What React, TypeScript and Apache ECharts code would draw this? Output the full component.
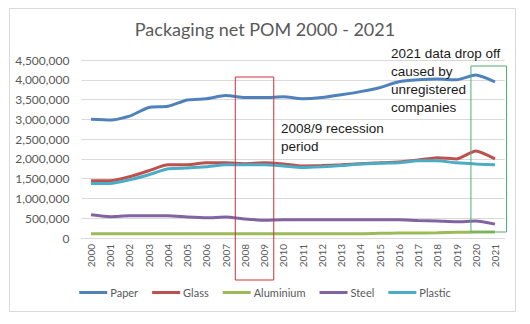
import React, { useEffect, useRef } from "react";
import * as echarts from "echarts";

const years = ["2000","2001","2002","2003","2004","2005","2006","2007","2008","2009","2010","2011","2012","2013","2014","2015","2016","2017","2018","2019","2020","2021"];
const paper = [3000000,2980000,3080000,3300000,3330000,3490000,3520000,3600000,3550000,3550000,3570000,3520000,3550000,3620000,3700000,3800000,3950000,4000000,4020000,4000000,4120000,3950000];
const glass = [1450000,1450000,1550000,1700000,1850000,1850000,1900000,1900000,1880000,1900000,1870000,1820000,1830000,1850000,1880000,1900000,1920000,1970000,2030000,2000000,2200000,2000000];
const aluminium = [110000,110000,110000,110000,110000,110000,110000,110000,110000,110000,110000,110000,110000,110000,110000,120000,125000,125000,130000,145000,150000,150000];
const steel = [590000,540000,560000,560000,560000,530000,510000,530000,480000,450000,460000,460000,460000,460000,460000,460000,460000,440000,430000,410000,430000,350000];
const plastic = [1380000,1380000,1470000,1600000,1750000,1770000,1800000,1850000,1850000,1850000,1820000,1780000,1800000,1830000,1870000,1890000,1900000,1950000,1950000,1900000,1870000,1850000];

const seriesNames = ["Paper", "Glass", "Aluminium", "Steel", "Plastic"];
const seriesData = [paper, glass, aluminium, steel, plastic];
const colors = ["#4f81bd", "#c0504d", "#9bbb59", "#8064a2", "#4bacc6"];

const titleText = "Packaging net POM 2000 - 2021";
const noteDrop = "2021 data drop off\ncaused by\nunregistered\ncompanies";
const noteRecession = "2008/9 recession\nperiod";

export default function App() {
  const ref = useRef<HTMLDivElement>(null);
  useEffect(() => {
    if (!ref.current) return;
    const chart = echarts.init(ref.current, null, { renderer: "svg" });
    const option: any = {
      animation: false,
      backgroundColor: "#ffffff",
      color: colors,
      title: {
        text: titleText,
        left: "center",
        top: 20,
        padding: 0,
        textStyle: { fontFamily: "Lato", fontSize: 18, fontWeight: "normal", color: "#595959" },
      },
      legend: {
        data: seriesNames,
        top: 287,
        left: "center",
        padding: 0,
        itemWidth: 28,
        itemHeight: 3,
        itemGap: 14,
        icon: "rect",
        textStyle: { fontFamily: "Lato", fontSize: 11, color: "#595959", padding: [0, 0, 0, -2] },
      },
      grid: { left: 81.4, right: 25.4, top: 60, bottom: 86, containLabel: false },
      xAxis: {
        type: "category",
        data: years,
        boundaryGap: true,
        axisLine: { lineStyle: { color: "#d9d9d9" } },
        axisTick: { show: false },
        axisLabel: { rotate: 90, interval: 0, margin: 6, fontFamily: "Lato", fontSize: 10, color: "#595959" },
      },
      yAxis: {
        type: "value",
        min: 0,
        max: 4500000,
        interval: 500000,
        axisLine: { show: false },
        axisTick: { show: false },
        splitLine: { lineStyle: { color: "#d9d9d9", width: 1 } },
        axisLabel: {
          margin: 12,
          fontFamily: "Lato",
          fontSize: 12,
          color: "#595959",
          formatter: (v: number) => v.toLocaleString("en-US"),
        },
      },
      series: seriesNames.map((n, i) => ({
        name: n,
        type: "line",
        data: seriesData[i],
        smooth: 0.2,
        symbol: "none",
        lineStyle: { width: 3, color: colors[i] },
        itemStyle: { color: colors[i] },
      })),
    };
    chart.setOption(option);

    const px = (cat: string) => chart.convertToPixel({ xAxisIndex: 0 }, cat) as number;
    const band = px(years[1]) - px(years[0]);
    const redLeft = px("2008") - band / 2;
    const redRight = px("2009") + band / 2;
    const greenLeft = px("2020") - band / 4;
    const greenRight = px("2021") + band * 0.6;
    const yTop = chart.convertToPixel({ yAxisIndex: 0 }, 4500000) as number;
    const yZero = chart.convertToPixel({ yAxisIndex: 0 }, 0) as number;

    chart.setOption({
      graphic: [
        {
          type: "rect",
          z: 0,
          silent: true,
          shape: { x: 9.5, y: 8.5, width: 506, height: 303 },
          style: { fill: "none", stroke: "#d9d9d9", lineWidth: 1 },
        },
        {
          type: "rect",
          z: 100,
          shape: { x: redLeft, y: yTop + 17, width: redRight - redLeft, height: 203 },
          style: { fill: "none", stroke: "#cc3038", lineWidth: 1 },
        },
        {
          type: "rect",
          z: 100,
          shape: { x: greenLeft, y: yTop + 6, width: greenRight - greenLeft, height: yZero - 6 - (yTop + 6) },
          style: { fill: "none", stroke: "#4fae6e", lineWidth: 1 },
        },
        {
          type: "text",
          z: 100,
          x: 391,
          y: 44,
          style: { text: noteDrop, font: '13.5px "Liberation Sans", Arial, sans-serif', fill: "#1a1a1a", lineHeight: 18 },
        },
        {
          type: "text",
          z: 100,
          x: 281,
          y: 119,
          style: { text: noteRecession, font: '13.5px "Liberation Sans", Arial, sans-serif', fill: "#1a1a1a", lineHeight: 18 },
        },
      ],
    });

    return () => chart.dispose();
  }, []);
  return <div ref={ref} style={{ position: "fixed", left: 0, top: 0, width: 530, height: 324 }} />;
}
